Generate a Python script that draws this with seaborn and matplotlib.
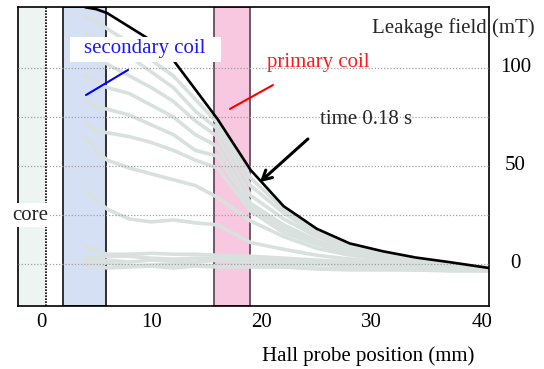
import numpy as np
import pandas as pd
import matplotlib
matplotlib.use("Agg")
import matplotlib.pyplot as plt
from matplotlib.ticker import FixedLocator
from matplotlib.patches import Rectangle
from matplotlib.transforms import ScaledTranslation
import seaborn as sns

# ---- data ----
position_mm = [4, 5, 6, 8, 10, 12, 14, 16, 19, 22, 25, 28, 31, 34, 37, 40.6]
field_t018 = [131, 130, 128, 121, 114, 104, 89, 74, 48, 29.5, 18, 10.5, 6.5, 3.3, 1, -2]
field_g1 = [126, 124, 120, 113, 104, 96, 84, 72, 44, 28, 16.5, 9.5, 5.5, 2.8, 0.5, -2]
field_g2 = [118, 115, 112, 106, 98, 90, 78, 69, 40, 26, 15, 8.5, 5, 2.5, 0, -2]
field_g3 = [108, 105, 102, 96, 90, 83, 73, 65, 35, 23, 14, 8, 4.5, 2, 0, -2.2]
field_g4 = [96, 93, 90, 87, 81, 75, 66, 60, 31, 20, 12, 7, 4, 1.5, -0.5, -2.5]
field_g5 = [84, 80, 79, 76, 71, 66, 58, 55, 29, 18, 11, 6, 3.5, 1, -0.5, -2.5]
field_g6 = [72, 68, 67, 65, 62, 58, 53, 49, 27, 16, 10, 5.5, 3, 1, -1, -2.5]
field_g7 = [65, 58, 53, 49, 46, 43, 40, 34, 22, 14, 8, 4.5, 2.5, 0.5, -1, -3]
field_g8 = [37, 33, 28, 23, 21.5, 22.5, 21, 20, 11, 7.5, 4.5, 2.5, 1, 0, -1.5, -3]
field_g9 = [9, 7, 5, 5, 5.5, 5, 5, 4.5, 4, 3, 2, 1, 0, -1, -2, -3]
field_c1 = [3, 3.5, 4, 4, 3, 2.5, 3, 3, 2.5, 1.5, 1, 0, -0.5, -1, -2, -3]
field_c2 = [1, 1.5, 2, 1, 2, 1.5, 1, 2, 0.8, 0, 0, -1, -1.5, -2, -2.5, -3]
field_c3 = [-0.5, 0, 0.5, -1, -0.5, 0, -0.5, -1, -1.2, -1.5, -2, -2.5, -2.5, -3, -3, -3.5]
field_c4 = [2, -1, -2, -1.5, -1, -2, -1, -1.5, -1.5, -1.5, -2.5, -3, -3, -3, -3.5, -3.5]

grey_series = {
    "g1": field_g1, "g2": field_g2, "g3": field_g3, "g4": field_g4,
    "g5": field_g5, "g6": field_g6, "g7": field_g7, "g8": field_g8,
    "g9": field_g9, "c1": field_c1, "c2": field_c2, "c3": field_c3, "c4": field_c4,
}

core_region = (-2.085, 0.42)
secondary_coil = (2.0, 5.92)
primary_coil = (15.68, 18.95)

x_ticks = [0, 10, 20, 30, 40]
y_ticks = [0, 50, 100]

# ---- build tables ----
grey_df = pd.concat(
    [pd.DataFrame({"position": position_mm, "field": v, "curve": k}) for k, v in grey_series.items()],
    ignore_index=True,
)
black_df = pd.DataFrame({"position": position_mm, "field": field_t018})

sns.set_theme(style="white")
plt.rcParams["font.family"] = ["Liberation Serif", "DejaVu Serif"]
FS = 15

fig = plt.figure(figsize=(5.44, 3.69), dpi=100)
ax = fig.add_axes([18 / 544, 63 / 369, 471 / 544, 299 / 369])

# bands
ax.axvspan(*core_region, facecolor="#eef4f2", edgecolor="none", zorder=0)
ax.axvline(core_region[1], color="black", ls=(0, (1, 0.8)), lw=1.2, zorder=1)
ax.axvspan(*secondary_coil, facecolor="#d6e0f5", edgecolor="#111111", lw=1.2, zorder=0)
ax.axvspan(*primary_coil, facecolor="#f8c8e0", edgecolor="#5a4050", lw=1.2, zorder=0)

# curves
sns.lineplot(data=grey_df, x="position", y="field", units="curve", estimator=None,
             color="#d9e1df", lw=2.6, ax=ax, zorder=2, legend=False)
sns.lineplot(data=black_df, x="position", y="field", color="black", lw=1.9, ax=ax, zorder=3)

ax.set_xlim(-2.085, 40.62)
ax.set_ylim(-21.4, 131.1)

# ticks & grid
ax.set_xticks(x_ticks)
ax.set_yticks(y_ticks)
ax.xaxis.set_minor_locator(FixedLocator([10, 20, 30]))
ax.yaxis.set_minor_locator(FixedLocator([25, 75]))
ax.set_axisbelow(False)
ax.grid(False)
ax.grid(True, which="both", axis="y", ls=(0, (1, 1.5)), color="#a0a0a0", lw=0.9, zorder=1)
ax.grid(True, which="minor", axis="x", ls=(0, (1, 1.5)), color="#a0a0a0", lw=0.9, zorder=1)
ax.yaxis.tick_right()
ax.tick_params(axis="both", which="both", length=0, labelsize=FS, colors="black")
ax.tick_params(axis="y", pad=19)
ax.tick_params(axis="x", pad=5)
up = ScaledTranslation(0, 3 / 100, fig.dpi_scale_trans)
for lab in ax.get_yticklabels():
    lab.set_horizontalalignment("center")
    lab.set_transform(lab.get_transform() + up)

for s in ax.spines.values():
    s.set_color("black")
    s.set_linewidth(1.2)
    s.set_visible(True)

ax.set_xlabel("Hall probe position (mm)", fontsize=FS, color="black")
ax.xaxis.set_label_coords(0.743, -0.135)
ax.set_ylabel("")
ax.text(0.924, 0.930, "Leakage field (mT)", transform=ax.transAxes, fontsize=FS,
        ha="center", va="center", clip_on=False, zorder=6)

# annotations
ax.add_patch(Rectangle((2.63, 103.0), 13.67, 12.8, facecolor="white", edgecolor="none", zorder=4))
ax.text(9.43, 109.8, "secondary coil", color="#1a1aff", fontsize=FS, ha="center", va="center", zorder=5)
ax.plot([4.08, 7.89], [86.2, 99.0], color="#0000ff", lw=1.5, zorder=5)

ax.text(25.11, 102.6, "primary coil", color="#ff1a1a", fontsize=FS, ha="center", va="center", zorder=5)
ax.plot([17.13, 21.03], [79.1, 91.3], color="#ff0000", lw=1.5, zorder=5)

ax.text(-1.0, 25.0, "core", fontsize=FS, ha="center", va="center", clip_on=False, zorder=5,
        bbox=dict(facecolor="white", edgecolor="none", boxstyle="square,pad=0.1"))

ax.text(29.46, 73.5, "time 0.18 s", fontsize=FS, ha="center", va="center", zorder=5)
ax.annotate("", xy=(19.85, 41.8), xytext=(24.2, 63.8),
            arrowprops=dict(arrowstyle="->,head_length=0.55,head_width=0.3", color="black", lw=2.2,
                            shrinkA=0, shrinkB=0), zorder=5)

fig.savefig("out.png", dpi=100)
